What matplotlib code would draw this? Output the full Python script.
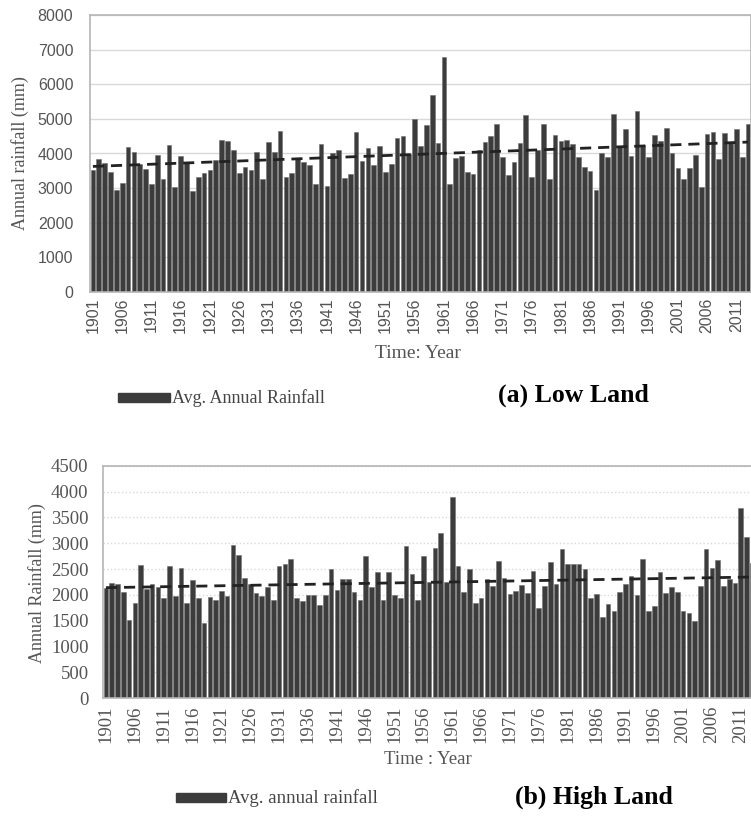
import numpy as np
import matplotlib.pyplot as plt
from matplotlib.patches import Rectangle

years = list(range(1901, 2014))

# (a) Low Land, annual rainfall (mm), 1901-2013
low_land = [3520, 3855, 3740, 3470, 2935, 3160, 4195, 4050, 3710, 3565,
            3120, 3950, 3275, 4240, 3030, 3920, 3740, 2915, 3320, 3440,
            3535, 3805, 4390, 4360, 4100, 3440, 3610, 3520, 4050, 3275,
            4340, 4030, 4650, 3320, 3450, 3855, 3760, 3680, 3110, 4260,
            3050, 4000, 4115, 3295, 3420, 4610, 3785, 4145, 3660, 4215,
            3470, 3710, 4435, 4500, 3980, 5000, 4220, 4810, 5700, 4290,
            6780, 3130, 3870, 3930, 3470, 3400, 4100, 4340, 4510, 4840,
            3900, 3370, 3760, 4290, 5120, 3320, 4100, 4840, 3255, 4530,
            4370, 4390, 4260, 3900, 3620, 3490, 2935, 4020, 3885, 5140,
            4195, 4700, 3930, 5240, 4240, 3885, 4530, 4360, 4730, 4000,
            3585, 3250, 3585, 3970, 3030, 4560, 4610, 3835, 4600, 4340,
            4710, 3885, 4840]

# (b) High Land, annual rainfall (mm), 1901-2013
high_land = [2140, 2225, 2205, 2065, 1515, 1840, 2580, 2110, 2205, 2150,
             1950, 2550, 1980, 2515, 1840, 2280, 1935, 1465, 1955, 1905,
             2085, 1980, 2970, 2775, 2335, 2205, 2045, 1970, 2150, 1900,
             2550, 2600, 2700, 1950, 1880, 2000, 2000, 1800, 2000, 2500,
             2100, 2300, 2300, 2050, 1900, 2750, 2150, 2450, 1900, 2450,
             2000, 1950, 2950, 2400, 1900, 2750, 2250, 2900, 3200, 2250,
             3900, 2550, 2050, 2500, 1850, 1950, 2300, 2175, 2665, 2320,
             2020, 2085, 2195, 2030, 2470, 1740, 2175, 2645, 2215, 2895,
             2600, 2600, 2595, 2505, 1935, 2020, 1580, 1820, 1690, 2065,
             2205, 2370, 2000, 2695, 1680, 1785, 2440, 2045, 2150, 2065,
             1695, 1645, 1495, 2175, 2890, 2515, 2680, 2175, 2305, 2240,
             3690, 3115, 2610]

W, H = 751, 817
fig = plt.figure(figsize=(W / 100, H / 100), dpi=100)


def px_axes(x0, x1, y0, y1):
    # axes from pixel box (top-left origin)
    return fig.add_axes([x0 / W, 1 - y1 / H, (x1 - x0) / W, (y1 - y0) / H])


def draw_panel(ax, vals, ymax, ystep, tick_font, grid_style, xsize, ysize,
               xpad, ypad):
    x = np.arange(len(vals))
    ax.bar(x, vals, width=0.8, color='#3c3c3c', edgecolor='#707070',
           linewidth=0.4, zorder=2)
    a, b = np.polyfit(x, vals, 1)
    ax.plot(x, a * x + b, linestyle=(0, (4, 2.5)), color='#222222',
            linewidth=2.0, zorder=3)
    ax.set_xlim(-0.5, len(vals) - 0.5)
    ax.set_ylim(0, ymax)
    ax.set_yticks(np.arange(0, ymax + 1, ystep))
    ax.set_xticks(x[::5])
    ax.set_xticklabels([str(y) for y in years[::5]], rotation=90)
    ax.tick_params(length=0, colors='#555555')
    ax.tick_params(axis='x', labelsize=xsize, pad=xpad)
    ax.tick_params(axis='y', labelsize=ysize, pad=ypad)
    for t in ax.get_xticklabels() + ax.get_yticklabels():
        t.set_family(tick_font)
    ax.yaxis.grid(True, color='#d9d9d9', linestyle=grid_style,
                  linewidth=1.0, zorder=0)
    ax.set_axisbelow(True)
    for s in ax.spines.values():
        s.set_color('#b5b5b5')
        s.set_linewidth(1.2)


ax1 = px_axes(90, 751, 15, 292)
draw_panel(ax1, low_land, 8000, 1000, 'Liberation Sans', '-', 11.5, 11.5,
           4, 12)

ax2 = px_axes(103.1, 755.2, 465.7, 698.3)
draw_panel(ax2, high_land, 4500, 500, 'Liberation Serif', ':', 13.5, 13.5,
           5.5, 10.5)

serif = 'Liberation Serif'
fig.text(20 / W, 1 - 153 / H, 'Annual rainfall (mm)', family=serif,
         fontsize=13, color='#555555', rotation=90, ha='center', va='center')
fig.text(418 / W, 1 - 353 / H, 'Time: Year', family=serif, fontsize=14,
         color='#555555', ha='center', va='center')
fig.text(37 / W, 1 - 583 / H, 'Annual Rainfall (mm)', family=serif,
         fontsize=13, color='#555555', rotation=90, ha='center', va='center')
fig.text(428 / W, 1 - 760 / H, 'Time : Year', family=serif, fontsize=13.5,
         color='#555555', ha='center', va='center')

# legends and panel titles
fig.patches.append(Rectangle((118 / W, 1 - 402 / H), 52 / W, 9 / H,
                             transform=fig.transFigure, color='#3c3c3c'))
fig.text(172 / W, 1 - 398 / H, 'Avg. Annual Rainfall', family=serif,
         fontsize=13, color='#444444', va='center')
fig.text(498 / W, 1 - 395 / H, '(a) Low Land', family=serif,
         fontsize=18.5, fontweight='bold', va='center')

fig.patches.append(Rectangle((176 / W, 1 - 802 / H), 50 / W, 9 / H,
                             transform=fig.transFigure, color='#3c3c3c'))
fig.text(228 / W, 1 - 798 / H, 'Avg. annual rainfall', family=serif,
         fontsize=13.5, color='#444444', va='center')
fig.text(515 / W, 1 - 797 / H, '(b) High Land', family=serif,
         fontsize=18.5, fontweight='bold', va='center')

fig.savefig('out.png', dpi=100)
